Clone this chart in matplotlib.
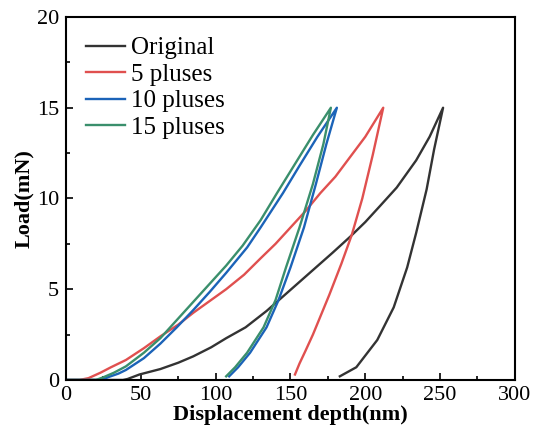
import matplotlib
matplotlib.use("Agg")
import matplotlib.pyplot as plt
from matplotlib.ticker import MultipleLocator

plt.rcParams['font.family'] = ['Liberation Serif', 'DejaVu Serif']

# load-displacement curves (loading then unloading)
orig_x = [0, 38, 41, 49, 63, 75, 85, 97, 107, 120, 134, 145, 156, 167, 178, 190, 200, 210, 221, 234, 243, 252,
          246, 241, 234, 228, 219, 208, 194, 183]
orig_y = [0, 0, 0.05, 0.3, 0.6, 0.95, 1.3, 1.8, 2.3, 2.9, 3.8, 4.6, 5.4, 6.2, 7.0, 7.9, 8.7, 9.6, 10.6, 12.1, 13.4, 15,
          12.7, 10.5, 8.1, 6.2, 4.0, 2.2, 0.7, 0.2]

p5_x = [0, 9, 15, 23, 30, 40, 52, 63, 75, 85, 96, 107, 119, 130, 140, 150, 160, 170, 180, 190, 200, 212,
        205, 198, 191, 184, 176, 170, 165, 160, 156, 153]
p5_y = [0, 0, 0.1, 0.4, 0.7, 1.1, 1.75, 2.4, 3.05, 3.7, 4.35, 5.0, 5.8, 6.7, 7.5, 8.4, 9.3, 10.3, 11.2, 12.3, 13.4, 15,
        12.4, 10.0, 8.0, 6.4, 4.7, 3.5, 2.5, 1.6, 0.9, 0.3]

p10_x = [0, 24, 28, 35, 40, 52, 63, 74, 85, 96, 107, 114, 121, 130, 145, 156, 168, 181,
         174, 167, 159, 150, 142, 134, 123, 115, 109]
p10_y = [0, 0, 0.15, 0.35, 0.55, 1.2, 2.0, 2.9, 3.85, 4.85, 5.9, 6.6, 7.3, 8.4, 10.3, 11.8, 13.4, 15,
         13.0, 10.8, 8.4, 6.2, 4.4, 2.9, 1.5, 0.7, 0.2]

p15_x = [0, 20, 25, 32, 40, 52, 63, 74, 85, 96, 107, 118, 130, 141, 153, 165, 177,
         172, 165, 156, 147, 140, 132, 121, 113, 107]
p15_y = [0, 0, 0.15, 0.4, 0.75, 1.5, 2.3, 3.3, 4.3, 5.3, 6.3, 7.4, 8.8, 10.3, 11.9, 13.5, 15,
         13.0, 10.8, 8.4, 6.2, 4.4, 2.9, 1.5, 0.7, 0.2]

labels = ['Original', '5 pluses', '10 pluses', '15 pluses']
colors = ['#333333', '#e0504f', '#1b63b8', '#3a8f6c']

fig = plt.figure(figsize=(5.33, 4.47), dpi=100)
ax = fig.add_axes([0.124, 0.150, 0.842, 0.812])

for xs, ys, lab, col in zip([orig_x, p5_x, p10_x, p15_x],
                            [orig_y, p5_y, p10_y, p15_y], labels, colors):
    ax.plot(xs, ys, color=col, lw=1.7, label=lab)

ax.set_xlim(0, 300)
ax.set_ylim(0, 20)
ax.xaxis.set_major_locator(MultipleLocator(50))
ax.xaxis.set_minor_locator(MultipleLocator(25))
ax.yaxis.set_major_locator(MultipleLocator(5))
ax.yaxis.set_minor_locator(MultipleLocator(2.5))
ax.tick_params(which='both', direction='in', labelsize=16, width=1.2)
ax.tick_params(axis='x', pad=4)
ax.tick_params(axis='y', pad=5)
ax.tick_params(which='major', length=5)
ax.tick_params(which='minor', length=3)
for s in ax.spines.values():
    s.set_linewidth(1.5)

ax.set_xlabel('Displacement depth(nm)', fontsize=16, fontweight='bold', labelpad=0)
ax.set_ylabel('Load(mN)', fontsize=16, fontweight='bold', labelpad=2)

ax.legend(loc='upper left', frameon=False, fontsize=18, handlelength=1.55,
          handletextpad=0.25, labelspacing=0.16, borderpad=0, borderaxespad=0,
          bbox_to_anchor=(0.045, 0.945))

fig.savefig('out.png', dpi=100)
